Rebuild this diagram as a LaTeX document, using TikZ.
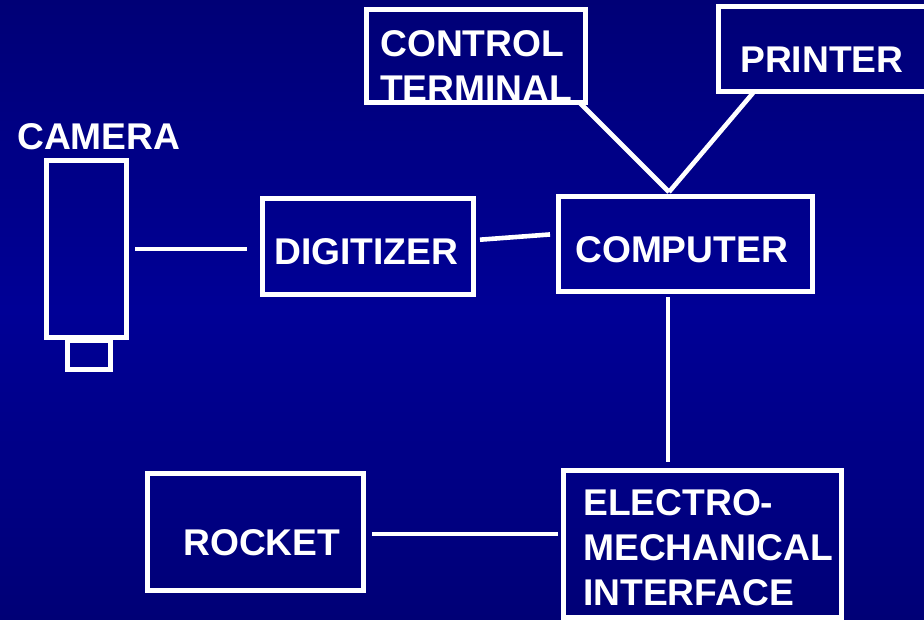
\documentclass[tikz,border=0pt]{standalone}
\usepackage{fontspec}
\setmainfont{Liberation Sans}
\usepackage{xcolor}
\usetikzlibrary{positioning}
\definecolor{navytop}{HTML}{000076}
\definecolor{navymid}{HTML}{000096}
\definecolor{navylow}{HTML}{000076}

\begin{document}
\begin{tikzpicture}[
    x=1pt,y=-1pt,
    box/.style={draw=white,line width=4.6pt,inner sep=0pt,anchor=north west},
    lbl/.style={text=white,font=\fontsize{37.2}{45}\selectfont\bfseries,inner sep=0pt,align=left,anchor=base west},
    link/.style={draw=white,line width=4.6pt}
  ]
    \shade[top color=navytop,bottom color=navylow,middle color=navymid] (0,0) rectangle (924,619);
    \useasboundingbox (0,0) rectangle (924,619);
    % labels
    \node[lbl] (cameratxt) at (17,149) {CAMERA};
    \node[lbl] (digitizertxt) at (274,264) {DIGITIZER};
    \node[lbl] (computertxt) at (575,262) {COMPUTER};
    \node[lbl] (terminaltxt) at (380,101) {CONTROL\\TERMINAL};
    \node[lbl] (printertxt) at (740,72) {PRINTER};
    \node[lbl] (rockettxt) at (183,555) {ROCKET};
    \node[lbl] (interfacetxt) at (583,605) {ELECTRO-\\MECHANICAL\\INTERFACE};
    % boxes
    \node[box,minimum width=80.4pt,minimum height=177.4pt] (camera) at (44,158) {};
    \node[box,minimum width=43.4pt,minimum height=29.4pt] (lens) at (65,338) {};
    \node[box,minimum width=211.4pt,minimum height=96.4pt] (digitizer) at (260,196) {};
    \node[box,minimum width=254.4pt,minimum height=95.4pt] (computer) at (556,194) {};
    \node[box,minimum width=219.4pt,minimum height=93.4pt] (terminal) at (364,7) {};
    \node[box,minimum width=212.4pt,minimum height=85.4pt] (printer) at (716,4) {};
    \node[box,minimum width=216.4pt,minimum height=117.4pt] (rocket) at (145,471) {};
    \node[box,minimum width=278.4pt,minimum height=147.4pt] (interface) at (561,468) {};
    % links
    \coordinate (apex) at ([xshift=-16.5pt,yshift=2pt]computer.north);
    \draw[link,shorten <=6pt,shorten >=13pt] (camera.east) -- ([yshift=-2.5pt]digitizer.west);
    \draw[link,shorten <=4pt,shorten >=6pt] ([yshift=6.5pt]digitizer.east) -- ([yshift=10pt]computer.west);
    \draw[link,shorten <=3pt,shorten >=6pt] ([xshift=-17.5pt]computer.south) -- ([xshift=-34.5pt]interface.north);
    \draw[link,shorten <=6pt,shorten >=3pt] ([yshift=-2pt]rocket.east) -- ([yshift=10pt]interface.west);
    \draw[link] ([xshift=-8pt,yshift=2pt]terminal.south east) -- (apex);
    \draw[link] ([xshift=37pt,yshift=1pt]printer.south west) -- (apex);
\end{tikzpicture}
\end{document}
